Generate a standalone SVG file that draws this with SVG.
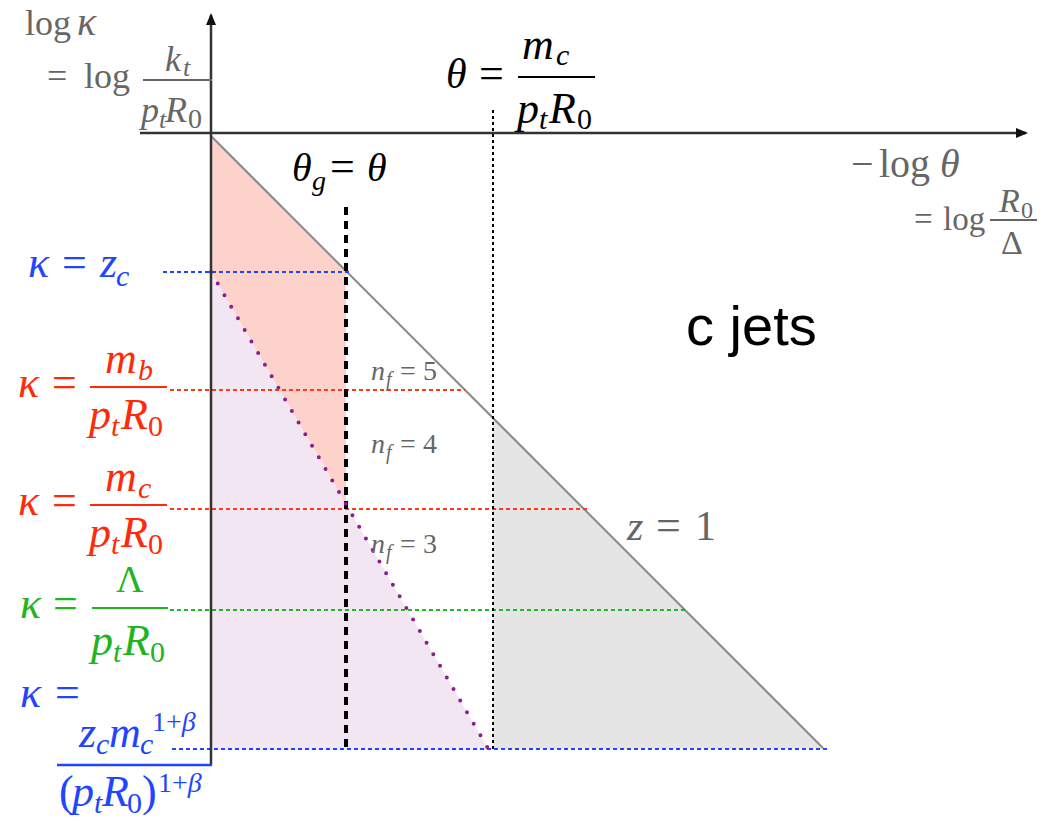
<svg xmlns="http://www.w3.org/2000/svg" width="1059" height="821" viewBox="0 0 1059 821">
<defs>
<marker id="arr" markerWidth="12" markerHeight="10" refX="10" refY="5" orient="auto" markerUnits="userSpaceOnUse"><path d="M0,0 L12,5 L0,10 z" fill="#111"/></marker>
</defs>
<style>
text{font-family:"Liberation Serif","DejaVu Serif",serif}
.i{font-style:italic}
.gr{fill:#666}
.bk{fill:#000}
.bl{fill:#1f45ff}
.rd{fill:#ff2a0a}
.gn{fill:#20b420}
.cj{font-family:"Liberation Sans","DejaVu Sans",sans-serif;fill:#000}
.d{stroke-width:2;stroke-dasharray:4 3;fill:none}
</style>
<rect width="1059" height="821" fill="#fff"/>
<g id="regions">
<polygon points="211,136 346,271 346,504 211,272" fill="#fdd2ca"/>
<polygon points="211,272 489,750 211,750" fill="#f3e6f3"/>
<polygon points="493,418 823,749 493,749" fill="#e5e5e5"/>
</g>
<g id="connectors">
<line x1="211" y1="136" x2="823" y2="748" stroke="#8a8a8a" stroke-width="2"/>
<line class="d" x1="163" y1="272" x2="352" y2="272" stroke="#1f45ff"/>
<line class="d" x1="170" y1="390" x2="465" y2="390" stroke="#ff3a1a"/>
<line class="d" x1="170" y1="509" x2="588" y2="509" stroke="#ff3a1a"/>
<line class="d" x1="170" y1="610" x2="686" y2="610" stroke="#22b822"/>
<line class="d" x1="172" y1="749" x2="828" y2="749" stroke="#1f45ff"/>
<line x1="346" y1="207" x2="346" y2="752" stroke="#000" stroke-width="4" stroke-dasharray="8 6"/>
<line x1="493" y1="110" x2="493" y2="752" stroke="#000" stroke-width="2" stroke-dasharray="3 3"/>
<line x1="211" y1="272" x2="489" y2="750" stroke="#8e1e8e" stroke-width="4" stroke-linecap="round" stroke-dasharray="0 13.4"/>
<line x1="211" y1="765" x2="211" y2="15" stroke="#333" stroke-width="2.5" marker-end="url(#arr)"/>
<line x1="140" y1="133" x2="1026" y2="133" stroke="#333" stroke-width="2.5" marker-end="url(#arr)"/>
</g>
<g id="axis-labels">
<text class="gr" font-size="36"><tspan x="25" y="35">log</tspan><tspan class="i" font-size="40" x="77" y="35">κ</tspan></text>
<text class="gr" font-size="36"><tspan x="47" y="88">=</tspan><tspan x="84" y="88">log</tspan></text>
<line x1="143" y1="80" x2="212" y2="80" stroke="#666" stroke-width="2"/>
<text class="gr i" font-size="36"><tspan x="165" y="71">k</tspan><tspan font-size="26" x="183" y="76">t</tspan></text>
<text class="gr" font-size="36"><tspan class="i" x="141" y="122">p</tspan><tspan class="i" font-size="26" x="159" y="128">t</tspan><tspan class="i" x="165" y="122">R</tspan><tspan font-size="28" x="188" y="128">0</tspan></text>
<text class="gr" font-size="40"><tspan x="851" y="177">−</tspan><tspan x="879" y="177">log</tspan><tspan class="i" x="940" y="177">θ</tspan></text>
<text class="gr" font-size="33"><tspan x="914" y="230">=</tspan><tspan x="943" y="230">log</tspan></text>
<line x1="990" y1="220" x2="1037" y2="220" stroke="#666" stroke-width="2"/>
<text class="gr" font-size="34"><tspan class="i" x="999" y="212">R</tspan><tspan font-size="24" x="1021" y="218">0</tspan><tspan x="1001" y="254">Δ</tspan></text>
</g>
<g id="theta-label">
<text class="bk" font-size="42"><tspan class="i" x="446" y="88">θ</tspan><tspan font-size="44" x="479" y="88">=</tspan></text>
<line x1="518" y1="77" x2="595" y2="77" stroke="#000" stroke-width="2"/>
<text class="bk i" font-size="44"><tspan x="522" y="59">m</tspan><tspan font-size="30" x="556" y="65">c</tspan></text>
<text class="bk" font-size="44"><tspan class="i" x="517" y="123">p</tspan><tspan class="i" font-size="30" x="539" y="129">t</tspan><tspan class="i" x="549" y="123">R</tspan><tspan font-size="30" x="577" y="129">0</tspan></text>
</g>
<g id="thetag-label">
<text class="bk" font-size="40"><tspan class="i" x="292" y="181">θ</tspan><tspan class="i" font-size="28" x="312" y="190">g</tspan><tspan font-size="44" x="330" y="181">=</tspan><tspan class="i" x="367" y="181">θ</tspan></text>
</g>
<g id="cjets"><text class="cj" font-size="56" x="686" y="345">c jets</text></g>
<g id="nf-labels">
<text class="gr" font-size="28"><tspan class="i" x="371" y="380">n</tspan><tspan class="i" font-size="20" x="386" y="386">f</tspan><tspan x="400" y="380">=</tspan><tspan x="423" y="380">5</tspan></text>
<text class="gr" font-size="28"><tspan class="i" x="371" y="453">n</tspan><tspan class="i" font-size="20" x="386" y="459">f</tspan><tspan x="400" y="453">=</tspan><tspan x="423" y="453">4</tspan></text>
<text class="gr" font-size="28"><tspan class="i" x="371" y="553">n</tspan><tspan class="i" font-size="20" x="386" y="559">f</tspan><tspan x="400" y="553">=</tspan><tspan x="423" y="553">3</tspan></text>
</g>
<g id="z1-label">
<text class="gr" font-size="42"><tspan class="i" x="627" y="540">z</tspan><tspan font-size="44" x="656" y="540">=</tspan><tspan x="695" y="540">1</tspan></text>
</g>
<g id="kappa-zc">
<text class="bl" font-size="44"><tspan class="i" x="28" y="277">κ</tspan><tspan x="62" y="277">=</tspan><tspan class="i" x="100" y="277">z</tspan><tspan class="i" font-size="30" x="116" y="286">c</tspan></text>
</g>
<g id="kappa-mb">
<text class="rd" font-size="44"><tspan class="i" x="18" y="397">κ</tspan><tspan x="52" y="397">=</tspan><tspan class="i" x="105" y="373">m</tspan><tspan class="i" font-size="30" x="138" y="380">b</tspan></text>
<line x1="90" y1="387" x2="167" y2="387" stroke="#ff2a0a" stroke-width="2"/>
<text class="rd" font-size="44"><tspan class="i" x="89" y="429">p</tspan><tspan class="i" font-size="30" x="111" y="436">t</tspan><tspan class="i" x="121" y="429">R</tspan><tspan font-size="30" x="148" y="436">0</tspan></text>
</g>
<g id="kappa-mc">
<text class="rd" font-size="44"><tspan class="i" x="18" y="515">κ</tspan><tspan x="52" y="515">=</tspan><tspan class="i" x="105" y="491">m</tspan><tspan class="i" font-size="30" x="138" y="498">c</tspan></text>
<line x1="90" y1="505" x2="167" y2="505" stroke="#ff2a0a" stroke-width="2"/>
<text class="rd" font-size="44"><tspan class="i" x="89" y="547">p</tspan><tspan class="i" font-size="30" x="111" y="554">t</tspan><tspan class="i" x="121" y="547">R</tspan><tspan font-size="30" x="148" y="554">0</tspan></text>
</g>
<g id="kappa-lambda">
<text class="gn" font-size="44"><tspan class="i" x="20" y="618">κ</tspan><tspan x="53" y="618">=</tspan><tspan font-size="38" x="116" y="592">Λ</tspan></text>
<line x1="92" y1="608" x2="168" y2="608" stroke="#20b420" stroke-width="2"/>
<text class="gn" font-size="44"><tspan class="i" x="91" y="655">p</tspan><tspan class="i" font-size="30" x="113" y="662">t</tspan><tspan class="i" x="123" y="655">R</tspan><tspan font-size="30" x="150" y="662">0</tspan></text>
</g>
<g id="kappa-beta">
<text class="bl" font-size="44"><tspan class="i" x="20" y="707">κ</tspan><tspan x="55" y="707">=</tspan></text>
<text class="bl" font-size="44"><tspan class="i" x="79" y="747">z</tspan><tspan class="i" font-size="30" x="96" y="754">c</tspan><tspan class="i" x="109" y="747">m</tspan><tspan class="i" font-size="30" x="140" y="754">c</tspan><tspan font-size="28" x="152" y="731">1+</tspan><tspan class="i" font-size="28" y="731">β</tspan></text>
<line x1="57" y1="765" x2="212" y2="765" stroke="#1f45ff" stroke-width="2.5"/>
<text class="bl" font-size="44"><tspan x="59" y="806">(</tspan><tspan class="i" x="72" y="806">p</tspan><tspan class="i" font-size="30" x="94" y="813">t</tspan><tspan class="i" x="102" y="806">R</tspan><tspan font-size="30" x="127" y="813">0</tspan><tspan x="142" y="806">)</tspan><tspan font-size="28" x="158" y="792">1+</tspan><tspan class="i" font-size="28" y="792">β</tspan></text>
</g>
</svg>
